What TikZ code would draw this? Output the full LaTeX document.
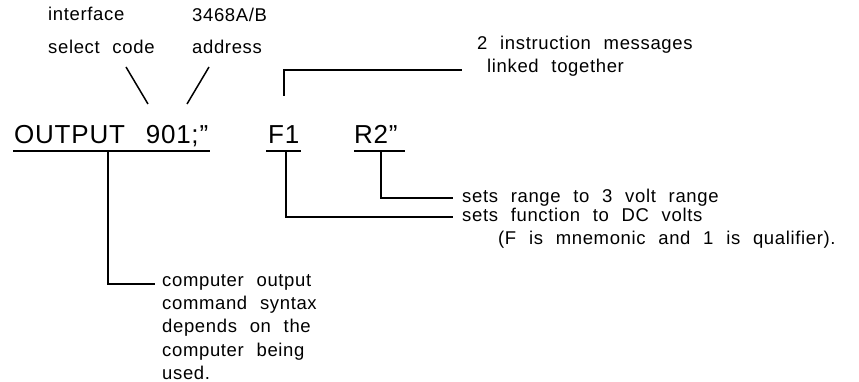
\documentclass[tikz,border=0pt]{standalone}
\usepackage{fontspec}
\setmainfont{Liberation Sans}[LetterSpace=3.5,WordSpace=2.2]
\newfontfamily\bigfont{Liberation Sans}[LetterSpace=3,WordSpace=2.6]
\begin{document}
\begin{tikzpicture}[x=1pt,y=-1pt,
  lbl/.style={font=\fontsize{18.5}{23.3}\selectfont,inner sep=0pt,anchor=base west,align=left},
  big/.style={font=\bigfont\fontsize{26}{30}\selectfont,inner sep=0pt,anchor=base west},
  ln/.style={line width=1.5pt}]
\useasboundingbox (0,0) rectangle (859,382);
% top labels
\node[lbl] (isc) at (48,21) {interface};
\node[lbl] (isc2) at (48,54) {select code};
\node[lbl] (adr) at (192,22) {3468A/B};
\node[lbl] (adr2) at (192,54) {address};
\coordinate (d1a) at (126,67); \coordinate (d1b) at (148,104);
\coordinate (d2a) at (209,67); \coordinate (d2b) at (187,104);
\draw[ln] (d1a) -- (d1b);
\draw[ln] (d2a) -- (d2b);
% main command
\node[big] (out) at (14,144) {OUTPUT 901;”};
\node[big] (f1) at (268,144) {F1};
\node[big] (r2) at (354,144) {R2”};
% underlines
\coordinate (u1a) at (13,151); \coordinate (u1b) at (210,151);
\coordinate (u2a) at (266,151); \coordinate (u2b) at (301,151);
\coordinate (u3a) at (354,151); \coordinate (u3b) at (405,151);
\draw[ln] (u1a) -- (u1b);
\draw[ln] (u2a) -- (u2b);
\draw[ln] (u3a) -- (u3b);
% top bracket
\node[lbl] (msg) at (477,50) {2 instruction messages};
\node[lbl] (msg2) at (487,73) {linked together};
\coordinate (b1) at (284,96); \coordinate (b2) at (462,70);
\draw[ln] (b1) |- (b2);
% R2 connector
\coordinate (r2a) at (381,151); \coordinate (r2b) at (453,198);
\draw[ln] (r2a) |- (r2b);
\node[lbl] (rng) at (462,203) {sets range to 3 volt range};
% F1 connector
\coordinate (f1a) at (286,151); \coordinate (f1b) at (453,217);
\draw[ln] (f1a) |- (f1b);
\node[lbl] (fun) at (462,222) {sets function to DC volts};
\node[lbl] (fun2) at (498,244) {(F is mnemonic and 1 is qualifier).};
% OUTPUT connector
\coordinate (o1a) at (108,151); \coordinate (o1b) at (155,284);
\draw[ln] (o1a) |- (o1b);
\node[lbl,anchor=north west] (cmp) at (162,274) {computer output\\command syntax\\depends on the\\computer being\\used.};
\end{tikzpicture}
\end{document}
